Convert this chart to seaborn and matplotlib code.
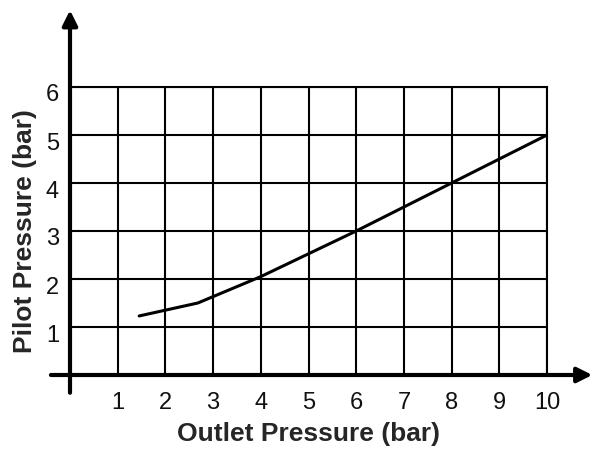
import matplotlib
matplotlib.use('Agg')
import matplotlib.pyplot as plt
import matplotlib.transforms as mtransforms
import seaborn as sns
import pandas as pd

# Values
outlet_pressure = [1.45, 2.68, 4.0, 6.0, 8.0, 10.0]
pilot_pressure = [1.23, 1.5, 2.05, 3.0, 4.0, 5.0]
x_ticks = [1, 2, 3, 4, 5, 6, 7, 8, 9, 10]
y_ticks = [1, 2, 3, 4, 5, 6]

df = pd.DataFrame({'Outlet': outlet_pressure, 'Pilot': pilot_pressure})

sns.set_style('white')
plt.rcParams['font.family'] = ['Liberation Sans', 'DejaVu Sans']

fig = plt.figure(figsize=(5.93, 4.54), dpi=100)
ax = fig.add_axes([70 / 593, (454 - 375) / 454, 477 / 593, 288 / 454])

# Data line
sns.lineplot(data=df, x='Outlet', y='Pilot', color='black', linewidth=2.2,
             ax=ax, zorder=5)

ax.set_xlim(0, 10)
ax.set_ylim(0, 6)
ax.set_xticks(x_ticks)
ax.set_yticks(y_ticks)
ax.grid(True, color='black', linewidth=1.5)
ax.set_axisbelow(True)

for side in ['left', 'bottom']:
    ax.spines[side].set_visible(False)
for side in ['top', 'right']:
    ax.spines[side].set_visible(True)
    ax.spines[side].set_color('black')
    ax.spines[side].set_linewidth(1.5)

ax.tick_params(length=0, labelsize=17, colors='#111111')
ax.tick_params(axis='y', pad=8)
ax.tick_params(axis='x', pad=12)

# nudge y labels a bit down, like the reference
offset = mtransforms.ScaledTranslation(0, -6 / 100, fig.dpi_scale_trans)
for lbl in ax.get_yticklabels():
    lbl.set_transform(lbl.get_transform() + offset)

# Axis arrows
arrow = dict(arrowstyle='-|>,head_length=0.9,head_width=0.45', color='black',
             linewidth=3, shrinkA=0, shrinkB=0)
ax.annotate('', xy=(0, 7.6), xytext=(0, -0.37), arrowprops=arrow,
            annotation_clip=False)
ax.annotate('', xy=(10.95, 0), xytext=(-0.4, 0), arrowprops=arrow,
            annotation_clip=False)

ax.set_xlabel('Outlet Pressure (bar)', fontsize=19, fontweight='bold', labelpad=6)
ax.set_ylabel('Pilot Pressure (bar)', fontsize=19, fontweight='bold', labelpad=6)

fig.savefig('out.png', dpi=100)
